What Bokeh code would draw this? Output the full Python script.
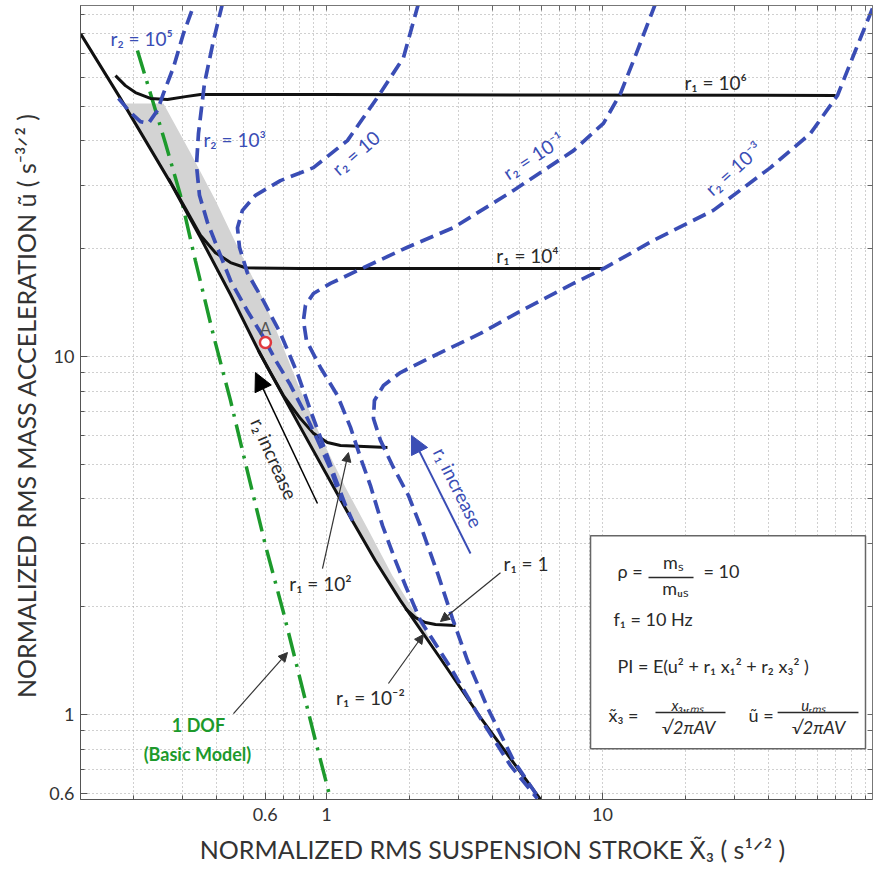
import math
from bokeh.plotting import figure
from bokeh.models import (Range1d, FixedTicker, LogAxis, Label, Arrow, NormalHead,
                          BoxAnnotation, PrintfTickFormatter)
from bokeh.embed import file_html
from bokeh.resources import INLINE

# ---------------- ticks ----------------
x_major = [0.6, 1, 10]
x_minor = [0.2, 0.3, 0.4, 0.5, 0.7, 0.8, 0.9, 2, 3, 4, 5, 6, 7, 8, 9,
           20, 30, 40, 50, 60, 70, 80, 90]
y_major = [0.6, 1, 10]
y_minor = [0.7, 0.8, 0.9, 2, 3, 4, 5, 6, 7, 8, 9, 20, 30, 40, 50, 60, 70, 80, 90]

# ---------------- curves ----------------
# r1 = 1e-2 envelope
env_x = [0.1285, 0.1793, 0.2721, 0.3495, 0.449, 0.5766, 0.805, 1.222, 1.504, 1.854, 2.588, 3.614, 5.96]
env_y = [79.8, 52.6, 30.6, 21.5, 14.9, 10.13, 6.34, 3.55, 2.69, 2.08, 1.434, 0.981, 0.579]

r1_1e6_x = [0.1720, 0.1869, 0.2032, 0.2303, 0.2654, 0.3084, 0.3495, 1.0, 69.9]
r1_1e6_y = [60.9, 57.1, 54.6, 52.6, 52.2, 53.2, 53.9, 53.9, 53.6]

r1_1e4_x = [0.2677, 0.3084, 0.3495, 0.396, 0.449, 0.5087, 0.805, 10.08]
r1_1e4_y = [31.4, 25.9, 21.8, 19.5, 18.3, 17.7, 17.6, 17.6]

r1_1e2_x = [0.5671, 0.6266, 0.6986, 0.805, 0.8973, 1.008, 1.124, 1.663]
r1_1e2_y = [10.39, 9.02, 7.78, 6.71, 6.10, 5.75, 5.64, 5.57]

r1_1_x = [1.933, 2.101, 2.284, 2.483, 2.934]
r1_1_y = [1.977, 1.866, 1.807, 1.784, 1.773]

r2_1e5_x = [0.1764, 0.1950, 0.2119, 0.2265, 0.2442, 0.2567, 0.2790, 0.3033, 0.3324]
r2_1e5_y = [52.6, 48.0, 45.3, 44.8, 48.7, 54.3, 64.2, 79.8, 96.8]

r2_1e3_x = [0.4200, 0.3896, 0.3614, 0.3438, 0.3381, 0.3467, 0.3705, 0.4061, 0.449, 0.5173,
            0.5862, 0.655, 0.735, 0.826, 0.93, 1.04, 1.133]
r2_1e3_y = [96.8, 76.3, 57.9, 42.0, 34.2, 28.2, 23.7, 19.8, 16.3, 13.4,
            11.45, 9.75, 8.41, 7.07, 5.83, 4.80, 3.96]

r2_1e1_x = [2.154, 1.901, 1.530, 1.191, 0.8973, 0.6813, 0.5530, 0.4962, 0.4760, 0.4840,
            0.5173, 0.5911, 0.6813, 0.7851, 0.8748, 0.9753, 1.078, 1.172, 1.242]
r2_1e1_y = [96.8, 68.4, 52.9, 40.1, 33.7, 31.0, 28.2, 25.6, 22.9, 20.2,
            17.1, 14.3, 11.6, 8.97, 7.07, 5.64, 4.56, 3.84, 3.48]

r2_1em1_x = [15.56, 13.39, 11.62, 10.08, 7.85, 4.76, 2.885, 1.966, 1.362, 1.034, 0.8973,
             0.8393, 0.8254, 0.8463, 0.951, 1.096, 1.222, 1.328, 1.443, 1.596, 1.778,
             1.933, 2.191, 2.814, 3.524, 4.642, 5.81]
r2_1em1_y = [96.8, 71.6, 54.3, 44.8, 37.6, 29.1, 22.9, 20.2, 17.7, 16.0, 15.0,
             13.9, 12.6, 11.08, 9.32, 7.78, 6.34, 5.22, 4.36, 3.37, 2.69,
             2.29, 1.830, 1.353, 1.006, 0.720, 0.582]

r2_1em3_x = [95.1, 82.5, 71.0, 56.7, 40.6, 25.2, 15.30, 10.08, 7.85, 5.05, 3.614, 2.381,
             1.854, 1.609, 1.492, 1.480, 1.569, 1.748, 1.982, 2.246, 2.546, 2.861, 3.243,
             3.831, 4.76, 5.96]
r2_1em3_y = [93.8, 71.6, 53.6, 42.0, 33.7, 25.6, 21.1, 17.6, 16.0, 13.4, 11.6, 9.94,
             9.02, 8.30, 7.54, 6.71, 5.83, 4.90, 4.09, 3.20, 2.44, 1.854, 1.415,
             1.046, 0.744, 0.575]

dof1_x = [0.2066, 0.2303, 0.2610, 0.2958, 0.3352, 0.3896, 0.449, 0.5217, 0.601, 0.6986,
          0.805, 0.912, 1.034]
dof1_y = [71.6, 54.3, 39.4, 28.2, 18.5, 11.45, 7.54, 4.65, 2.97, 1.927, 1.245, 0.846, 0.582]

# right edge of the shaded band (its left edge is the envelope)
band_edge_x = [0.1823, 0.2567, 0.3215, 0.396, 0.488, 0.5862, 0.6813, 0.805, 0.9672, 1.172,
               1.420, 1.734, 2.015, 2.246, 2.421, 2.588]
band_edge_y = [50.9, 50.9, 37.1, 27.3, 19.5, 14.6, 11.08, 8.04, 5.83, 4.31,
               3.27, 2.44, 2.02, 1.773, 1.559, 1.434]

point_a_x = [0.601]
point_a_y = [10.94]

# ---------------- styling ----------------
FONT = "Lato"
BLUE = "#3a4db5"
GREEN = "#1d9a2c"
BLACK = "#111111"
TXT = "#2a2a2a"
NB = "\u00a0"

p = figure(width=874, height=875, x_axis_type="log", y_axis_type="log",
           x_range=Range1d(0.1285, 95.1), y_range=Range1d(0.579, 95.6),
           output_backend="svg", toolbar_location=None,
           min_border_left=80, min_border_right=2, min_border_top=5, min_border_bottom=76,
           background_fill_color="white", border_fill_color="white")
p.outline_line_color = "#777777"

x_ticker = FixedTicker(ticks=x_major, minor_ticks=x_minor)
y_ticker = FixedTicker(ticks=y_major, minor_ticks=y_minor)
p.xaxis.ticker = x_ticker
p.yaxis.ticker = y_ticker
p.xgrid.ticker = x_ticker
p.ygrid.ticker = y_ticker

for ax in (p.xaxis[0], p.yaxis[0]):
    ax.formatter = PrintfTickFormatter(format="%g")
    ax.major_label_text_font = FONT
    ax.major_label_text_font_size = "18px"
    ax.major_label_text_color = "#333333"
    ax.axis_line_color = "#555555"
    ax.major_tick_in = 7
    ax.major_tick_out = 0
    ax.minor_tick_in = 4
    ax.minor_tick_out = 0
    ax.major_tick_line_color = "#555555"
    ax.minor_tick_line_color = "#555555"
    ax.axis_label_text_font = FONT
    ax.axis_label_text_font_size = "25px"
    ax.axis_label_text_font_style = "normal"
    ax.axis_label_text_color = "#333333"
p.xaxis.major_label_standoff = 8
p.yaxis.major_label_standoff = 6
p.xaxis.axis_label = NB * 6 + "NORMALIZED RMS SUSPENSION STROKE  X̃₃ ( s¹ᐟ² )"
p.yaxis.axis_label = "NORMALIZED RMS MASS ACCELERATION  ũ ( s⁻³ᐟ² )"
p.xaxis.axis_label_standoff = 10
p.yaxis.axis_label_standoff = 5

# mirrored tick marks on the top and right edges (no labels)
for loc, vals in (("right", y_major + y_minor), ("above", x_major + x_minor)):
    ax2 = LogAxis(ticker=FixedTicker(ticks=[], minor_ticks=sorted(vals)),
                  axis_line_color="#777777", minor_tick_in=5, minor_tick_out=0,
                  major_tick_in=0, major_tick_out=0, minor_tick_line_color="#666666")
    p.add_layout(ax2, loc)

for g in (p.xgrid[0], p.ygrid[0]):
    g.grid_line_color = "#a0a0a0"
    g.grid_line_dash = "1 3"
    g.grid_line_width = 1
    g.minor_grid_line_color = "#a0a0a0"
    g.minor_grid_line_dash = "1 3"
    g.minor_grid_line_width = 1

# shaded band
band_x = band_edge_x + env_x[9:1:-1]
band_y = band_edge_y + env_y[9:1:-1]
p.patch(band_x, band_y, fill_color="#d3d3d3", line_color=None)

# 1 DOF
p.line(dof1_x, dof1_y, line_color=GREEN, line_width=3.5, line_dash="24 8 3 8")

# r1 curves (black)
for xs, ys in ((env_x, env_y), (r1_1e6_x, r1_1e6_y), (r1_1e4_x, r1_1e4_y),
               (r1_1e2_x, r1_1e2_y), (r1_1_x, r1_1_y)):
    p.line(xs, ys, line_color=BLACK, line_width=3, line_join="round")

# r2 curves (blue dashed)
for xs, ys in ((r2_1e5_x, r2_1e5_y), (r2_1e3_x, r2_1e3_y), (r2_1e1_x, r2_1e1_y),
               (r2_1em1_x, r2_1em1_y), (r2_1em3_x, r2_1em3_y)):
    p.line(xs, ys, line_color=BLUE, line_width=3.7, line_dash="14 7", line_join="round")

p.scatter(point_a_x, point_a_y, marker="circle", size=11, fill_color="white",
          line_color="#e0393e", line_width=2.5)


def label(x, y, text, size=19, color=TXT, angle=0.0, align="left", style="normal",
          baseline="middle"):
    p.add_layout(Label(x=x, y=y, text=text, text_font=FONT, text_font_size=f"{size}px",
                       text_color=color, angle=angle, text_align=align,
                       text_baseline=baseline, text_font_style=style))


def arrow(x0, y0, x1, y1, color="#333333", width=1.2, head=9):
    p.add_layout(Arrow(x_start=x0, y_start=y0, x_end=x1, y_end=y1, line_color=color,
                       line_width=width,
                       end=NormalHead(size=head, fill_color=color, line_color=color)))


# curve labels
label(0.165, 77.3, "r₂ = 10⁵", color=BLUE)
label(0.3583, 40.4, "r₂ = 10³", color=BLUE)
label(1.274, 37.1, "r₂ = 10", color=BLUE, angle=0.71, align="center")
label(5.62, 36.4, "r₂ = 10⁻¹", color=BLUE, angle=0.576, align="center")
label(29.8, 33.5, "r₂ = 10⁻³", color=BLUE, angle=0.73, align="center")
label(25.7, 58.3, "r₁ = 10⁶", align="center")
label(5.35, 19.1, "r₁ = 10⁴", align="center")
label(0.951, 2.32, "r₁ = 10²", align="center")
label(5.39, 2.64, "r₁ =  1", align="center")
label(1.443, 1.116, "r₁ = 10⁻²", align="center")
label(0.3438, 0.932, "1 DOF", color=GREEN, style="bold", align="center", size=18)
label(0.3409, 0.778, "(Basic Model)", color=GREEN, style="bold", align="center", size=18)
label(0.601, 11.97, "A", color="#555555", align="center", size=17)
label(0.648, 5.19, "r₂ increase", angle=-1.15, align="center")
label(3.008, 4.31, "r₁ increase", color=BLUE, angle=-1.11, align="center")

# arrows
arrow(0.9277, 3.885, 0.553, 9.02, color="black", width=1.5, head=18)
arrow(3.325, 2.818, 2.032, 6.02, color=BLUE, width=2, head=18)
arrow(0.9672, 2.557, 1.201, 5.39)
arrow(4.27, 2.49, 2.588, 1.819)
arrow(1.677, 1.221, 2.246, 1.673)
arrow(0.4603, 1.006, 0.7224, 1.490)

# info box
p.add_layout(BoxAnnotation(left=9.05, right=89.7, bottom=0.803, top=3.16,
                           fill_color="white", fill_alpha=1.0, line_color="#666666",
                           line_width=1.5, line_alpha=1.0))
label(11.33, 2.525, "ρ =", size=18)
label(18.08, 2.66, "mₛ", size=18, align="center")
p.add_layout(BoxAnnotation(left=14.68, right=21.37, bottom=2.403, top=2.426,
                           fill_color=TXT, fill_alpha=1.0, line_color=None))
label(18.39, 2.263, "mᵤₛ", size=18, align="center")
label(23.22, 2.525, "= 10", size=18)
label(10.96, 1.854, "f₁ = 10 Hz", size=18)
label(11.33, 1.362, "PI = E(u² + r₁ x₁² + r₂ x₃² )", size=18)
label(10.51, 1.0, "x̃₃ =", size=18)
label(20.32, 1.060, "x₃,ᵣₘₛ", size=15, align="center", style="italic")
p.add_layout(BoxAnnotation(left=15.56, right=27.9, bottom=1.008, top=1.018,
                           fill_color=TXT, fill_alpha=1.0, line_color=None))
label(20.5, 0.920, "√2πAV", size=18, align="center", style="italic")
label(33.8, 1.0, "ũ =", size=18)
label(58.2, 1.060, "uᵣₘₛ", size=15, align="center", style="italic")
p.add_layout(BoxAnnotation(left=43.1, right=84.6, bottom=1.008, top=1.018,
                           fill_color=TXT, fill_alpha=1.0, line_color=None))
label(60.6, 0.920, "√2πAV", size=18, align="center", style="italic")

open("out.html", "w").write(file_html(p, INLINE))
